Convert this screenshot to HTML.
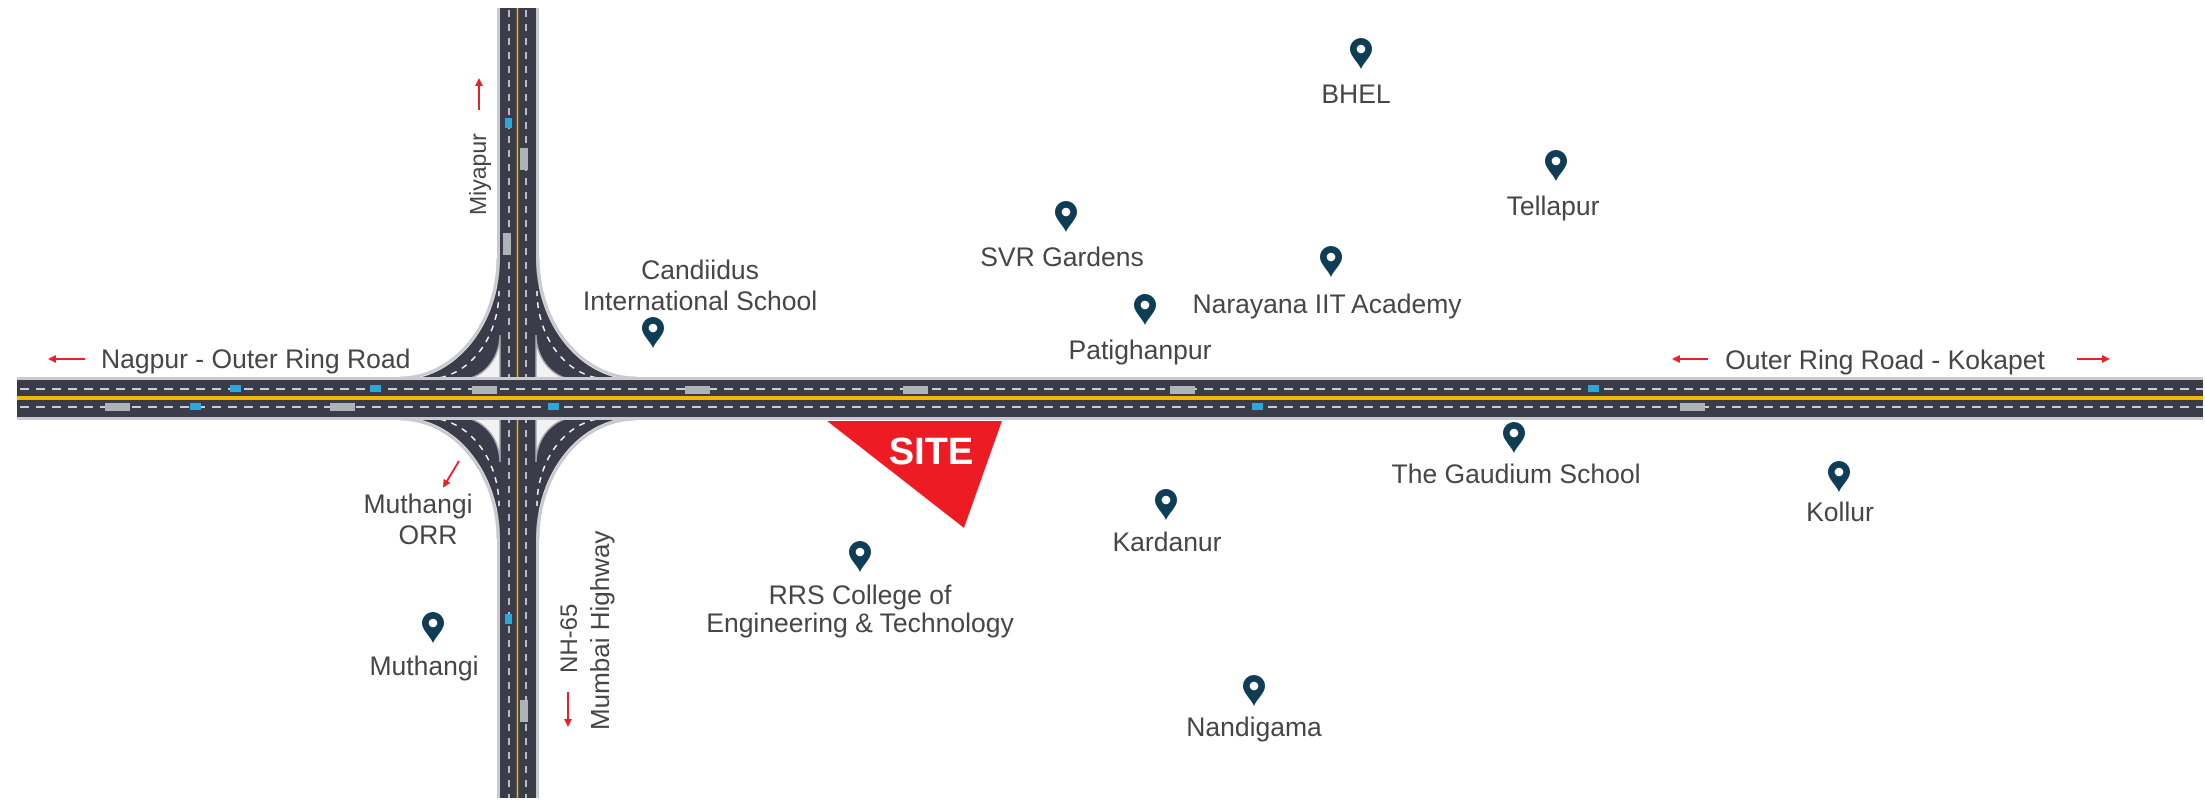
<!DOCTYPE html>
<html><head><meta charset="utf-8"><style>
html,body{margin:0;padding:0;background:#fff;}
svg{display:block;}
text{font-family:"Liberation Sans",Arial,sans-serif;fill:#464646;font-size:26.5px;}
</style></head><body>
<svg width="2205" height="806" viewBox="0 0 2205 806" xmlns="http://www.w3.org/2000/svg">
<defs>
<symbol id="pin" viewBox="-11 -16 22 32" overflow="visible">
<path d="M0,15 C-3,8 -11,2 -11,-5 A11,11 0 1 1 11,-5 C11,2 3,8 0,15Z" fill="#0e3d55"/>
<circle cx="0" cy="-5" r="4.3" fill="#fff"/>
</symbol>
<g id="ramp">
<path d="M400,380 A100,122 0 0 0 500,258 L500,380 Z" fill="#3b3c4a"/>
<path d="M400,378 A98,120 0 0 0 498,258" fill="none" stroke="#c9c9cf" stroke-width="3"/>
<path d="M459,380 A41,45 0 0 0 500,335 L500,380 Z" fill="#f2f2f4" stroke="#aaa" stroke-width="1.5"/>
<path d="M428,379 A71,88 0 0 0 499,291" fill="none" stroke="#fff" stroke-width="1.5" stroke-dasharray="6 6"/>
</g>
<marker id="ah" markerWidth="8" markerHeight="8" refX="6" refY="4" orient="auto" markerUnits="userSpaceOnUse">
<path d="M0,0 L8,4 L0,8 Z" fill="#e8202a"/>
</marker>
</defs>

<rect x="497" y="8" width="42" height="790" fill="#c9c9cf"/>
<rect x="500" y="8" width="36" height="790" fill="#3b3c4a"/>
<line x1="517.5" y1="8" x2="517.5" y2="798" stroke="#f2b705" stroke-width="1.5"/>
<line x1="509" y1="10" x2="509" y2="798" stroke="#fff" stroke-width="1.3" stroke-dasharray="7 7"/>
<line x1="526" y1="10" x2="526" y2="798" stroke="#fff" stroke-width="1.3" stroke-dasharray="7 7"/>

<use href="#ramp"/>
<use href="#ramp" transform="translate(1036,0) scale(-1,1)"/>
<use href="#ramp" transform="translate(0,797) scale(1,-1)"/>
<use href="#ramp" transform="translate(1036,797) scale(-1,-1)"/>

<rect x="17" y="377" width="2186" height="43" fill="#c9c9cf"/>
<rect x="17" y="380" width="2186" height="37" fill="#3b3c4a"/>
<rect x="17" y="396" width="2186" height="4" fill="#f5b800"/>
<line x1="20" y1="389" x2="2203" y2="389" stroke="#fff" stroke-width="1.5" stroke-dasharray="9 7"/>
<line x1="20" y1="407" x2="2203" y2="407" stroke="#fff" stroke-width="1.5" stroke-dasharray="9 7"/>

<g fill="#aeb3b8">
<rect x="472" y="386" width="25" height="8"/><rect x="685" y="386" width="25" height="8"/>
<rect x="903" y="386" width="25" height="8"/><rect x="1170" y="386" width="25" height="8"/>
<rect x="105" y="403" width="25" height="8"/><rect x="330" y="403" width="25" height="8"/>
<rect x="1680" y="403" width="25" height="8"/>
<rect x="520" y="148" width="8" height="22"/><rect x="503" y="233" width="8" height="22"/>
<rect x="520" y="700" width="8" height="22"/>
</g>
<g fill="#29a8e0">
<rect x="230" y="385" width="11" height="7"/><rect x="370" y="385" width="11" height="7"/>
<rect x="190" y="403" width="11" height="7"/><rect x="548" y="403" width="11" height="7"/>
<rect x="1588" y="385" width="11" height="7"/><rect x="1252" y="403" width="11" height="7"/>
<rect x="505" y="118" width="7" height="10"/><rect x="505" y="614" width="7" height="10"/>
</g>

<polygon points="827,421 1002,421 964,528" fill="#ed1c24"/>
<text x="931" y="464" text-anchor="middle" style="fill:#fff;font-weight:bold;font-size:38px">SITE</text>

<g stroke="#e8202a" stroke-width="2" marker-end="url(#ah)">
<line x1="85" y1="359" x2="50" y2="359"/>
<line x1="479" y1="110" x2="479" y2="80"/>
<line x1="1708" y1="359" x2="1674" y2="359"/>
<line x1="2077" y1="359" x2="2108" y2="359"/>
<line x1="459" y1="461" x2="444" y2="486"/>
<line x1="568" y1="692" x2="568" y2="725"/>
</g>

<text x="101" y="368">Nagpur - Outer Ring Road</text>
<text x="1885" y="369" text-anchor="middle">Outer Ring Road - Kokapet</text>
<text transform="translate(486,215) rotate(-90)" style="font-size:23px">Miyapur</text>
<text transform="translate(577,673) rotate(-90)" style="font-size:24px">NH-65</text>
<text transform="translate(609,730) rotate(-90)" style="font-size:26px">Mumbai Highway</text>
<g text-anchor="middle">
<text x="700" y="279">Candiidus</text>
<text x="700" y="310">International School</text>
<text x="1356" y="103">BHEL</text>
<text x="1553" y="215">Tellapur</text>
<text x="1062" y="266">SVR Gardens</text>
<text x="1327" y="313">Narayana IIT Academy</text>
<text x="1140" y="359">Patighanpur</text>
<text x="1516" y="483">The Gaudium School</text>
<text x="1840" y="521">Kollur</text>
<text x="1167" y="551">Kardanur</text>
<text x="860" y="604">RRS College of</text>
<text x="860" y="632">Engineering &amp; Technology</text>
<text x="418" y="513">Muthangi</text>
<text x="428" y="544">ORR</text>
<text x="424" y="675">Muthangi</text>
<text x="1254" y="736">Nandigama</text>
</g>

<use href="#pin" x="642" y="317" width="22" height="32"/>
<use href="#pin" x="1350" y="38" width="22" height="32"/>
<use href="#pin" x="1545" y="150" width="22" height="32"/>
<use href="#pin" x="1055" y="201" width="22" height="32"/>
<use href="#pin" x="1320" y="246" width="22" height="32"/>
<use href="#pin" x="1134" y="294" width="22" height="32"/>
<use href="#pin" x="1503" y="422" width="22" height="32"/>
<use href="#pin" x="1828" y="461" width="22" height="32"/>
<use href="#pin" x="1155" y="489" width="22" height="32"/>
<use href="#pin" x="849" y="541" width="22" height="32"/>
<use href="#pin" x="422" y="612" width="22" height="32"/>
<use href="#pin" x="1243" y="675" width="22" height="32"/>
</svg>
</body></html>
